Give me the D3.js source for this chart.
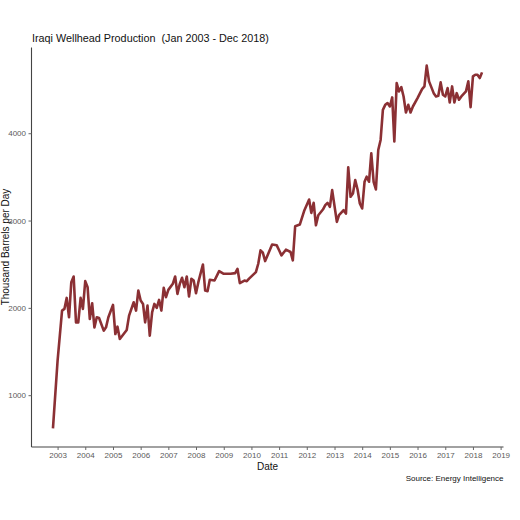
<!DOCTYPE html>
<html>
<head>
<meta charset="utf-8">
<script src="https://cdn.jsdelivr.net/npm/d3@7"></script>
<style>
  body { margin: 0; background: #fff; }
  svg text { font-family: "Liberation Sans", Arial, sans-serif; }
</style>
</head>
<body>
<div id="chart"></div>
<script>
// monthly wellhead production
var months = [
  "2002-11","2003-01","2003-03","2003-04","2003-05","2003-06","2003-07","2003-08","2003-09","2003-10","2003-11","2003-12",
  "2004-01","2004-02","2004-03","2004-04","2004-05","2004-06","2004-07","2004-09","2004-10","2004-11",
  "2005-01","2005-02","2005-03","2005-04","2005-07","2005-08","2005-10","2005-11","2005-12",
  "2006-01","2006-02","2006-03","2006-04","2006-05","2006-06","2006-07","2006-08","2006-09","2006-10","2006-11","2006-12",
  "2007-01","2007-03","2007-04","2007-05","2007-06","2007-07","2007-08","2007-09","2007-10","2007-11","2007-12",
  "2008-01","2008-02","2008-04","2008-05","2008-06","2008-07","2008-09","2008-11",
  "2009-01","2009-04","2009-06","2009-07","2009-08","2009-10","2009-11","2009-12",
  "2010-03","2010-04","2010-05","2010-06","2010-07","2010-10","2010-12",
  "2011-01","2011-02","2011-04","2011-06","2011-07","2011-08","2011-10","2011-12",
  "2012-02","2012-03","2012-04","2012-05","2012-06","2012-08","2012-09","2012-10","2012-11","2012-12",
  "2013-02","2013-03","2013-05","2013-06","2013-07","2013-08","2013-09","2013-10","2013-11","2013-12",
  "2014-01","2014-02","2014-03","2014-04","2014-05","2014-06","2014-07","2014-08","2014-09","2014-10","2014-11","2014-12",
  "2015-01","2015-02","2015-03","2015-04","2015-05","2015-06","2015-07","2015-08","2015-09","2015-10","2015-11",
  "2016-01","2016-03","2016-04","2016-05","2016-06","2016-08","2016-09","2016-10","2016-11","2016-12",
  "2017-01","2017-02","2017-03","2017-04","2017-05","2017-06","2017-07","2017-08","2017-10","2017-11","2017-12",
  "2018-01","2018-02","2018-03","2018-04","2018-05"
]
var production = [
  620,1394,1969,1988,2114,1892,2294,2359,1834,1834,2114,1988,
  2306,2237,1873,2053,1777,1892,1884,1739,1777,1892,
  2034,1700,1785,1643,1746,1911,2064,1969,2198,
  2084,2045,1834,2026,1681,1949,2045,1999,2091,1969,2229,2122,
  2206,2275,2359,2160,2275,2344,2237,2359,2130,2333,2313,
  2168,2294,2497,2198,2191,2321,2313,2421,
  2390,2390,2398,2447,2283,2313,2306,2335,
  2409,2505,2658,2631,2536,2725,2716,
  2659,2601,2666,2640,2544,2935,2954,3119,
  3241,3088,3203,2946,3061,3126,3176,3203,3157,3348,
  2985,3061,3119,3080,3609,3272,3310,3463,3356,3195,
  3138,3444,3502,3444,3770,3444,3356,3808,3923,4268,4325,4345,
  4306,4410,3907,4574,4479,4528,4421,4237,4325,4237,4306,
  4402,4505,4536,4774,4594,4459,4421,4429,4582,4440,
  4421,4517,4352,4536,4352,4459,4383,4421,4479,4594,4298,
  4651,4670,4670,4632,4697
]
var yTicks = [1000, 2000, 3000, 4000]
var xTickYears = d3.range(2003, 2020)

var titleText = "Iraqi Wellhead Production  (Jan 2003 - Dec 2018)"
var xTitle = "Date"
var yTitle = "Thousand Barrels per Day"
var sourceText = "Source: Energy Intelligence"

var W = 520, H = 520
var padL = 31.5, padR = 503.5, padT = 47.5, padB = 446.5
var parseMonth = d3.timeParse("%Y-%m")

var data = months.map(function(m, i) { return { date: parseMonth(m), value: production[i] } })

// ggplot style 5% expansion
var dExt = d3.extent(data, function(d) { return +d.date })
var dPad = (dExt[1] - dExt[0]) * 0.05
var vExt = d3.extent(data, function(d) { return d.value })
var vPad = (vExt[1] - vExt[0]) * 0.05

var x = d3.scaleTime()
  .domain([new Date(dExt[0] - dPad), new Date(dExt[1] + dPad)])
  .range([padL, padR])
var y = d3.scaleLinear()
  .domain([vExt[0] - vPad, vExt[1] + vPad])
  .range([padB, padT])

var svg = d3.select('#chart').append('svg')
  .attr('width', W)
  .attr('height', H)

svg.append('rect').attr('width', W).attr('height', H).attr('fill', '#fff')

// line
var line = d3.line()
  .x(function(d) { return x(d.date) })
  .y(function(d) { return y(d.value) })

svg.append('path')
  .datum(data)
  .attr('d', line)
  .attr('fill', 'none')
  .attr('stroke', '#8b3034')
  .attr('stroke-width', 2.6)
  .attr('stroke-linejoin', 'round')
  .attr('stroke-linecap', 'butt')

// x axis
var xAxis = d3.axisBottom(x)
  .tickValues(xTickYears.map(function(yr) { return new Date(yr, 0, 1) }))
  .tickFormat(d3.timeFormat("%Y"))
  .tickSize(3)
  .tickPadding(2.5)

var gx = svg.append('g')
  .attr('transform', 'translate(0,' + (padB + 0.5) + ')')
  .call(xAxis)
gx.select('.domain').attr('stroke', '#444').attr('stroke-width', 1.1)
  .attr('d', 'M' + padL + ',0H' + padR)
gx.selectAll('.tick line').attr('stroke', '#666')
gx.selectAll('.tick text').attr('fill', '#5a5a5a').attr('font-size', 8)

// y axis
var yAxis = d3.axisLeft(y)
  .tickValues(yTicks)
  .tickFormat(d3.format("d"))
  .tickSize(3)
  .tickPadding(2.5)

var gy = svg.append('g')
  .attr('transform', 'translate(' + padL + ',0)')
  .call(yAxis)
gy.select('.domain').attr('stroke', '#444').attr('stroke-width', 1.1)
  .attr('d', 'M0,' + (padB + 0.5) + 'V' + padT)
gy.selectAll('.tick line').attr('stroke', '#666')
gy.selectAll('.tick text').attr('fill', '#5a5a5a').attr('font-size', 8)

// titles
svg.append('text')
  .attr('x', 32)
  .attr('y', 42)
  .attr('font-size', 10.8)
  .attr('fill', '#111')
  .attr('xml:space', 'preserve')
  .style('white-space', 'pre')
  .text(titleText)

svg.append('text')
  .attr('x', (padL + padR) / 2)
  .attr('y', 469.5)
  .attr('text-anchor', 'middle')
  .attr('font-size', 10)
  .attr('fill', '#111')
  .text(xTitle)

svg.append('text')
  .attr('transform', 'translate(8.5,' + ((padT + padB) / 2) + ') rotate(-90)')
  .attr('text-anchor', 'middle')
  .attr('font-size', 10)
  .attr('fill', '#111')
  .text(yTitle)

svg.append('text')
  .attr('x', padR)
  .attr('y', 481)
  .attr('text-anchor', 'end')
  .attr('font-size', 8)
  .attr('fill', '#111')
  .text(sourceText)
</script>
</body>
</html>
